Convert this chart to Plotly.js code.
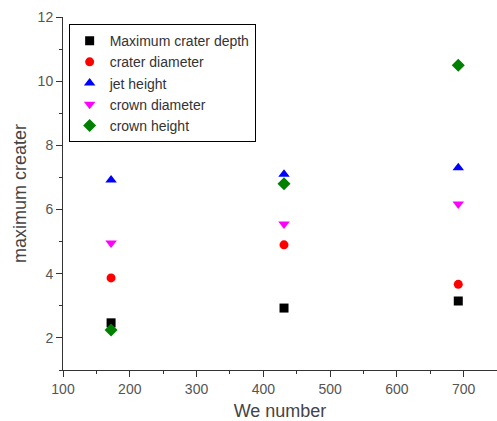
<!DOCTYPE html>
<html>
<head>
<meta charset="utf-8">
<script src="https://cdn.plot.ly/plotly-3.0.1.min.js"></script>
<style>html,body{margin:0;padding:0;background:#fff;}#chart{width:497px;height:421px;}</style>
</head>
<body>
<div id="chart"></div>
<script>
const weNumber = [172, 431, 692];
const maxCraterDepth = [2.47, 2.93, 3.15];
const craterDiameter = [3.87, 4.9, 3.67];
const jetHeight = [6.92, 7.1, 7.3];
const crownDiameter = [4.96, 5.55, 6.17];
const crownHeight = [2.25, 6.8, 10.5];
const seriesNames = ["Maximum crater depth", "crater diameter", "jet height", "crown diameter", "crown height"];
const seriesValues = [maxCraterDepth, craterDiameter, jetHeight, crownDiameter, crownHeight];
const colors = ["#000000", "#ff0000", "#0000ff", "#ff00ff", "#008000"];
const symbols = ["square", "circle", "triangle-up", "triangle-down", "diamond"];
const sizes = [9, 9, 10, 10, 10];

const traces = seriesNames.map((n, i) => ({
  x: weNumber, y: seriesValues[i], name: n, type: "scatter", mode: "markers",
  marker: {symbol: symbols[i], color: colors[i], size: sizes[i], line: {width: 0}}
}));

const FONT = "Liberation Sans, Arial";
const axisCommon = {
  showgrid: false, zeroline: false, showline: true, linecolor: "#333", linewidth: 1,
  ticks: "outside", ticklen: 6, tickcolor: "#333", tickwidth: 1,
  tickfont: {family: FONT, size: 14, color: "#555"}
};

const layout = {
  width: 497, height: 421,
  margin: {l: 63, r: 0, t: 17, b: 51},
  paper_bgcolor: "#fff", plot_bgcolor: "#fff",
  showlegend: true,
  legend: {x: 0.013, y: 0.98, xanchor: "left", yanchor: "top",
    bordercolor: "#000", borderwidth: 1, bgcolor: "rgba(255,255,255,0)",
    font: {family: FONT, size: 14, color: "#333"},
    tracegroupgap: 0, itemwidth: 30},
  xaxis: Object.assign({}, axisCommon, {
    range: [100, 750], tick0: 100, dtick: 100,
    minor: {ticks: "outside", ticklen: 3, tickcolor: "#333", dtick: 50, tick0: 100},
    title: {text: "We number", font: {family: FONT, size: 18, color: "#444"}, standoff: 14}
  }),
  yaxis: Object.assign({}, axisCommon, {
    range: [1, 12], tick0: 2, dtick: 2,
    minor: {ticks: "outside", ticklen: 3, tickcolor: "#333", dtick: 1, tick0: 1},
    title: {text: "maximum creater", font: {family: FONT, size: 18, color: "#444"}, standoff: 6}
  })
};

Plotly.newPlot("chart", traces, layout, {displayModeBar: false, staticPlot: true});
</script>
</body>
</html>
